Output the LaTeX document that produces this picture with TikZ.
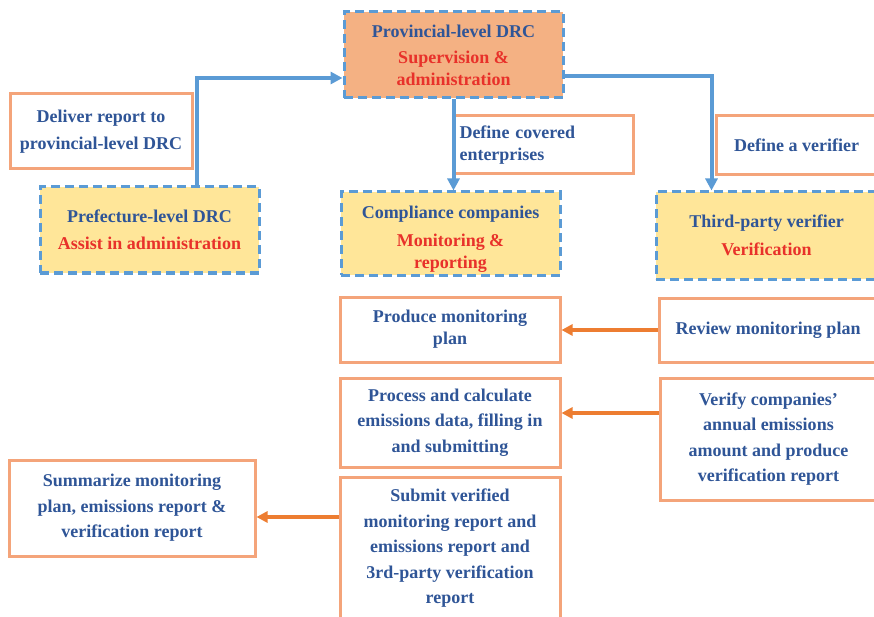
\documentclass[tikz,border=0pt]{standalone}
\usepackage{fontspec}
\setmainfont{Liberation Serif}
\usepackage{tikz}
\usetikzlibrary{arrows.meta, positioning, calc}
\definecolor{titleblue}{HTML}{2F5597}
\definecolor{rolered}{HTML}{E8312A}
\definecolor{dashblue}{HTML}{5B9BD5}
\definecolor{taskline}{HTML}{F4A47A}
\definecolor{arroworange}{HTML}{ED7D31}
\definecolor{leadfill}{HTML}{F4B183}
\definecolor{actorfill}{HTML}{FFE699}
\tikzset{
  leadbox/.style={
    rectangle,
    draw=dashblue,
    fill=leadfill,
    line width=3pt,
    dash pattern=on 9pt off 5pt,
    align=center,
    text=titleblue,
    inner sep=2pt,
    font=\bfseries\fontsize{18}{22}\selectfont
  },
  actorbox/.style={
    leadbox,
    fill=actorfill
  },
  taskbox/.style={
    rectangle,
    draw=taskline,
    fill=white,
    line width=3pt,
    align=center,
    text=titleblue,
    inner sep=2pt,
    font=\bfseries\fontsize{18}{25.5}\selectfont
  },
  linkarrow/.style={-{Triangle[length=12pt,width=12pt]}, line width=4pt, draw=dashblue},
  taskarrow/.style={-{Triangle[length=11pt,width=11pt]}, line width=3.5pt, draw=arroworange}
}
\begin{document}
\begin{tikzpicture}[x=1pt, y=-1pt]
  \clip (0,0) rectangle (874,617);

  \node[leadbox, minimum width=219pt, minimum height=86pt] (prov) at (453.5,55)
    {Provincial-level DRC\\[4pt]\color{rolered}Supervision \&\\\color{rolered}administration};
  \node[taskbox, minimum width=182pt, minimum height=75pt, font=\bfseries\fontsize{18}{27}\selectfont] (deliver) at (101,131.5)
    {Deliver report to\\provincial-level DRC};
  \node[actorbox, minimum width=219pt, minimum height=86pt, font=\bfseries\fontsize{18}{27}\selectfont] (pref) at (149.5,230)
    {Prefecture-level DRC\\\color{rolered}Assist in administration};
  \node[taskbox, minimum width=179pt, minimum height=58pt, text width=168pt, align=left, font=\bfseries\fontsize{18}{22}\selectfont] (covered) at (543.5,145)
    {Define covered\\enterprises};
  \node[actorbox, minimum width=219pt, minimum height=83pt] (comp) at (450.5,233.5)
    {\rule{0pt}{23pt}Compliance companies\\[6pt]\color{rolered}Monitoring \&\\\color{rolered}reporting};
  \node[taskbox, minimum width=161pt, minimum height=59pt] (verifier) at (796.5,145.5)
    {Define a verifier};
  \node[actorbox, minimum width=221pt, minimum height=87pt, font=\bfseries\fontsize{18}{28}\selectfont] (third) at (766.5,235.5)
    {Third-party verifier\\\color{rolered}Verification};

  \node[taskbox, minimum width=220pt, minimum height=65pt, font=\bfseries\fontsize{18}{22}\selectfont] (produce) at (450,329.5)
    {Produce monitoring\\plan};
  \node[taskbox, minimum width=218pt, minimum height=64pt] (review) at (768,330)
    {Review monitoring plan};
  \node[taskbox, minimum width=220pt, minimum height=89pt] (process) at (450,422.5)
    {Process and calculate\\emissions data, filling in\\and submitting};
  \node[taskbox, minimum width=217pt, minimum height=122pt] (verify) at (768.5,439)
    {Verify companies'\\annual emissions\\amount and produce\\verification report};
  \node[taskbox, minimum width=246pt, minimum height=96pt] (summ) at (132,508)
    {Summarize monitoring\\plan, emissions report \&\\verification report};
  \node[taskbox, minimum width=220pt, minimum height=143pt] (submit) at (450,548.5)
    {Submit verified\\monitoring report and\\emissions report and\\3rd-party verification\\report};

  \coordinate (provin) at ([yshift=-23pt]prov.west);
  \coordinate (provout) at ([yshift=-21pt]prov.east);
  \coordinate (thirdin) at ([xshift=-55pt]third.north);
  \coordinate (procin) at ([yshift=9.5pt]process.east);
  \coordinate (summin) at ([yshift=-9pt]summ.east);

  \draw[linkarrow] ([xshift=47.5pt]pref.north) |- (provin);
  \draw[linkarrow] (prov.south) -- (prov.south |- comp.north);
  \draw[linkarrow] (provout) -| (thirdin);
  \draw[taskarrow] (review.west) -- (produce.east |- review.west);
  \draw[taskarrow] (verify.west |- procin) -- (procin);
  \draw[taskarrow] (submit.west |- summin) -- (summin);
\end{tikzpicture}
\end{document}
